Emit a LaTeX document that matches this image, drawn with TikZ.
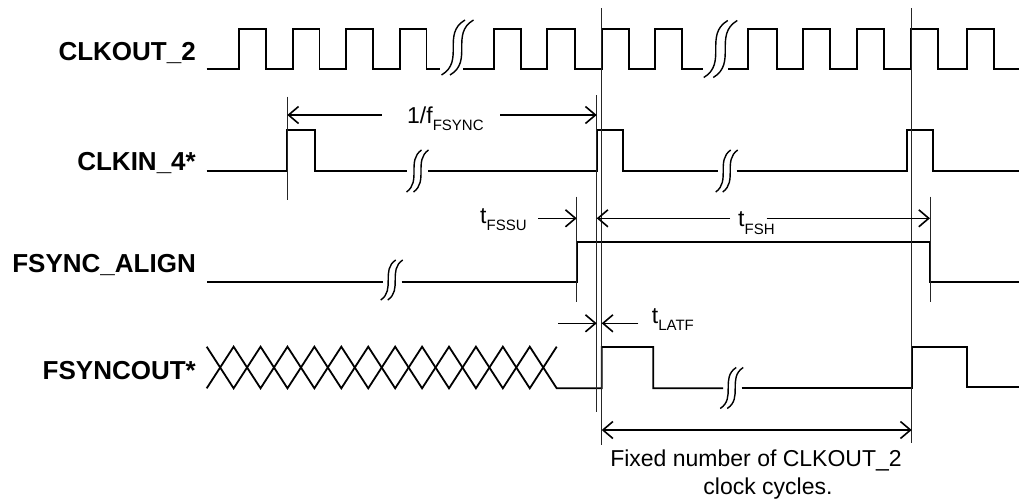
\documentclass[tikz,border=0pt]{standalone}
\usepackage{fontspec}
\setmainfont{Liberation Sans}
\usetikzlibrary{arrows.meta}
\newcommand{\subtxt}[2]{#1\raisebox{-7.5pt}{\fontsize{15}{17}\selectfont #2}}
\newcommand{\brkpair}[5]{% cx cy w h d
  \foreach \dd in {0,1}{
    \draw[brk] ({#1-#3/2-#5/2+\dd*#5}, {#2+#4/2}) .. controls +({#3},{-0.25*#4}) and +({-#3},{0.25*#4}) .. ({#1+#3/2-#5/2+\dd*#5}, {#2-#4/2});
  }}
\begin{document}
\begin{tikzpicture}[x=1pt,y=-1pt,
  sig/.style={line width=1.8pt, line join=miter},
  brk/.style={line width=1.4pt},
  markline/.style={line width=0.8pt, black!85},
  dim/.style={line width=1.6pt, -{Straight Barb[length=10pt,width=17pt]}},
  dimboth/.style={line width=1.6pt, {Straight Barb[length=10pt,width=17pt]}-{Straight Barb[length=10pt,width=17pt]}},
  lbl/.style={font=\fontsize{26}{30}\selectfont\bfseries, anchor=base east, inner sep=0},
  ann/.style={font=\fontsize{23}{27}\selectfont, inner sep=0},
]
\useasboundingbox (0,0) rectangle (1019,501);

% signal labels
\node[lbl] (lclkout) at (196,60) {CLKOUT\_2};
\node[lbl] (lclkin) at (196,170) {CLKIN\_4*};
\node[lbl] (lalign) at (196,272) {FSYNC\_ALIGN};
\node[lbl] (lfout) at (196,379) {FSYNCOUT*};

% CLKOUT_2
\draw[sig] (206.7,69.3) -| (239.3,29) -| (266,69.3) -| (292.8,29) -| (319.5,69.3) -| (346.3,29) -| (373,69.3) -| (399.8,29) -| (426.5,69.3) -- (440,69.3);
\draw[sig] (463.3,69.3) -| (494,29) -| (520.7,69.3) -| (547.3,29) -| (575,69.3) -| (601.7,29) -| (629,69.3) -| (655,29) -| (682.3,69.3) -- (703.3,69.3);
\draw[sig] (728.3,69.3) -| (748.3,29) -| (776.7,69.3) -| (803.3,29) -| (830,69.3) -| (856.7,29) -| (884,69.3) -| (910.7,29) -| (938.3,69.3) -| (966.7,29) -| (994,69.3) -- (1019,69.3);
\brkpair{457.5}{47.5}{23.5}{55}{8.5}
\brkpair{720.5}{49}{24}{57}{9.5}

% CLKIN_4*
\draw[sig] (206.7,170.7) -| (287.3,130) -| (315,170.7) -- (406.7,170.7);
\draw[sig] (428.3,170.7) -| (596.7,130) -| (623.3,170.7) -- (718,170.7);
\draw[sig] (736.7,170.7) -| (906.7,130) -| (933.3,170.7) -- (1019,170.7);
\brkpair{417.5}{171}{15}{42}{7}
\brkpair{726.7}{171}{15}{42}{7}

% FSYNC_ALIGN
\draw[sig] (207.3,281.7) -- (383,281.7);
\draw[sig] (401.7,281.7) -| (576.7,241.7) -| (930,282.3) -- (1019,282.3);
\brkpair{391.7}{280}{15}{40}{7}

% FSYNCOUT*
\draw[sig] (206.7,346.7) \foreach \i in {1,...,13}{ -- ({206.7+26.923*\i}, {367.5-20.8*cos(180*\i)}) } -| (601.7,347) -| (653.3,388.3) -- (723,388.3);
\draw[sig] (206.7,388.3) \foreach \i in {1,...,13}{ -- ({206.7+26.923*\i}, {367.5+20.8*cos(180*\i)}) };
\draw[sig] (741.7,388.3) -| (911.7,347) -| (966.7,387) -- (1019,387);
\brkpair{731.7}{388}{16}{41}{7}

% marker lines
\coordinate (v1t) at (287.3,96.7); \coordinate (v1b) at (287.3,200);
\coordinate (v2t) at (596.7,95);   \coordinate (v2b) at (596.7,411.7);
\coordinate (v3t) at (601.7,8);    \coordinate (v3b) at (601.7,445);
\coordinate (v4t) at (911.7,8);    \coordinate (v4b) at (911.7,443);
\coordinate (v5t) at (576.7,196.7); \coordinate (v5b) at (576.7,301.7);
\coordinate (v6t) at (930,196.7);   \coordinate (v6b) at (930,301.7);
\foreach \v in {v1,v2,v3,v4,v5,v6} \draw[markline] (\v t) -- (\v b);

% annotation texts
\node[ann, anchor=base west] (tf) at (407,123.3) {\subtxt{1/f}{FSYNC}};
\node[ann, anchor=base west] (tfssu) at (480,223.3) {\subtxt{t}{FSSU}};
\node[ann, anchor=base west] (tfsh) at (738,226.5) {\subtxt{t}{FSH}};
\node[ann, anchor=base west] (tlatf) at (651.7,323.3) {\subtxt{t}{LATF}};
\node[ann, anchor=base] (fix1) at (756,466.7) {Fixed number of CLKOUT\_2};
\node[ann, anchor=base] (fix2) at (768,494) {clock cycles.};

% dimension arrows
\coordinate (f1a) at (381.7,115); \coordinate (f1b) at (287.3,115);
\coordinate (f2a) at (500,115);   \coordinate (f2b) at (596.7,115);
\draw[dim] (f1a) -- (f1b);
\draw[dim] (f2a) -- (f2b);
\coordinate (su1) at (538,218.3); \coordinate (su2) at (576.7,218.3);
\draw[dim] (su1) -- (su2);
\coordinate (h1a) at (730,218.3); \coordinate (h1b) at (596.7,218.3);
\coordinate (h2a) at (766.7,218.3); \coordinate (h2b) at (930,218.3);
\draw[dim] (h1a) -- (h1b);
\draw[dim] (h2a) -- (h2b);
\coordinate (la1) at (558.3,323.3); \coordinate (la2) at (596.7,323.3);
\coordinate (lb1) at (638.3,323.3); \coordinate (lb2) at (601.7,323.3);
\draw[dim] (la1) -- (la2);
\draw[dim] (lb1) -- (lb2);
\coordinate (fx1) at (601.7,430); \coordinate (fx2) at (911.7,430);
\draw[dimboth] (fx1) -- (fx2);
\end{tikzpicture}
\end{document}
